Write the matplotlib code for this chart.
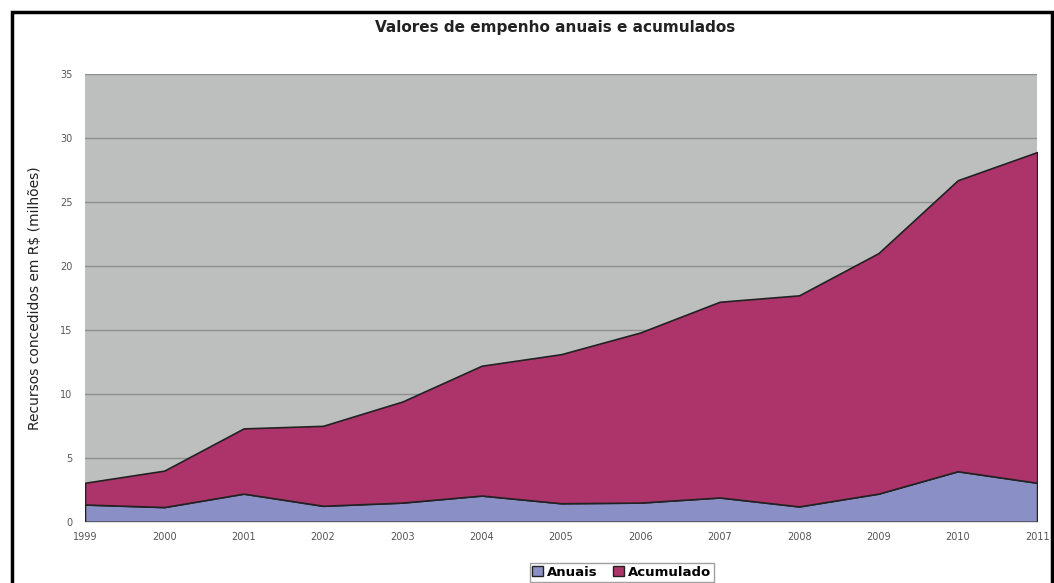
import matplotlib.pyplot as plt
from matplotlib.patches import Rectangle, Patch

anos = [1999, 2000, 2001, 2002, 2003, 2004, 2005, 2006, 2007, 2008, 2009, 2010, 2011]
anuais = [1.35, 1.15, 2.2, 1.25, 1.5, 2.05, 1.45, 1.5, 1.9, 1.2, 2.2, 3.95, 3.05]
acumulado = [1.7, 2.85, 5.1, 6.25, 7.9, 10.15, 11.65, 13.3, 15.3, 16.5, 18.8, 22.75, 25.85]

cor_anuais = '#8A8FC6'
cor_acum = '#AD346A'

fig = plt.figure(figsize=(10.54, 5.83), dpi=100)
ax = fig.add_axes([0.0806, 0.105, 0.9034, 0.768])

ax.set_facecolor('#BDBFBF')
ax.stackplot(anos, anuais, acumulado, colors=[cor_anuais, cor_acum],
             edgecolor='#222222', linewidth=1.2)

ax.set_xlim(1999, 2011)
ax.set_ylim(0, 35)
ax.set_xticks(anos)
ax.set_yticks(range(0, 36, 5))
ax.tick_params(axis='both', length=0, labelsize=7, colors='#555555')
ax.tick_params(axis='y', pad=9)
ax.tick_params(axis='x', pad=7)
ax.grid(axis='y', color='#8E9090', linewidth=1)
ax.set_axisbelow(True)
for s in ax.spines.values():
    s.set_visible(False)
ax.spines['bottom'].set_visible(True)
ax.spines['bottom'].set_color('#E0E0E0')

ax.set_ylabel('Recursos concedidos em R$ (milhões)', fontsize=10, color='#222222', labelpad=13)
fig.text(0.527, 0.952, 'Valores de empenho anuais e acumulados', ha='center', va='center',
         fontsize=11, fontweight='bold', color='#222222')

# moldura da figura
fig.patches.append(Rectangle((12 / 1054, -0.1), 1040 / 1054, 1.1 - 12 / 583, transform=fig.transFigure,
                             fill=False, edgecolor='black', linewidth=2.5))

handles = [Patch(facecolor=cor_anuais, edgecolor='#222222', label='Anuais'),
           Patch(facecolor=cor_acum, edgecolor='#222222', label='Acumulado')]
fig.legend(handles=handles, loc='upper center', bbox_to_anchor=(0.59, 0.045), ncol=2,
           frameon=True, fancybox=False, edgecolor='#888888',
           prop={'weight': 'bold', 'size': 9.5}, handlelength=0.8, handleheight=0.8,
           handletextpad=0.3, columnspacing=1.2, borderpad=0.2)

fig.savefig('out.png', dpi=100)
